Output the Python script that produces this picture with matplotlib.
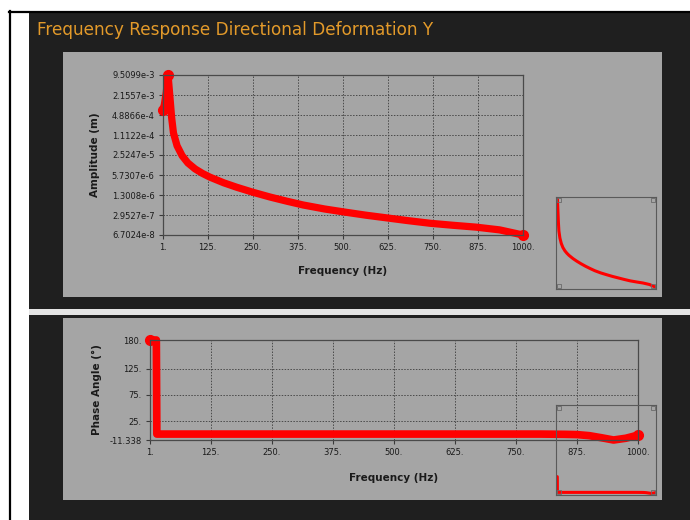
import matplotlib
matplotlib.use('Agg')
import matplotlib.pyplot as plt
from matplotlib.patches import Rectangle
from matplotlib.ticker import FixedLocator, FixedFormatter, NullLocator
import numpy as np

W, H = 690, 520

title = 'Frequency Response Directional Deformation Y'

# amplitude
freq_amp = [1, 5, 10, 15, 20, 25, 30, 40, 54, 70, 90, 110, 131, 170, 206, 250,
            298, 345, 390, 450, 510, 565, 620, 680, 742, 805, 870, 935, 1000]
amplitude = [7.0e-4, 1.1e-3, 2.6e-3, 9.5099e-3, 2.0e-3, 4.0e-4, 1.3e-4, 5.0e-5,
             2.4e-5, 1.4e-5, 9.0e-6, 6.5e-6, 4.9e-6, 3.2e-6, 2.3e-6, 1.6e-6,
             1.12e-6, 8.2e-7, 6.2e-7, 4.6e-7, 3.6e-7, 2.9e-7, 2.4e-7, 1.95e-7,
             1.6e-7, 1.38e-7, 1.2e-7, 9.8e-8, 6.7024e-8]

# phase
freq_phase = [1, 14, 15, 200, 400, 600, 800, 850, 875, 900, 925, 950, 975, 1000]
phase = [180, 180, 0, 0, 0, 0, 0, -0.5, -1, -3, -7, -11.338, -8, -2]

freq_ticks = [1, 125, 250, 375, 500, 625, 750, 875, 1000]
amp_tick_labels = ['9.5099e-3', '2.1557e-3', '4.8866e-4', '1.1122e-4', '2.5247e-5',
                   '5.7307e-6', '1.3008e-6', '2.9527e-7', '6.7024e-8']
phase_ticks = [180, 125, 75, 25, -11.338]
phase_tick_labels = ['180.', '125.', '75.', '25.', '-11.338']

GREY = '#a5a5a5'
DARK = '#1f1f1f'
RED = '#ff0000'
INK = '#1a1a1a'


def px_box(x0, y0, x1, y1):
    return [x0 / W, 1 - y1 / H, (x1 - x0) / W, (y1 - y0) / H]


fig = plt.figure(figsize=(W / 100, H / 100), dpi=100, facecolor='white')

# window background drawn in pixel coordinates
bg = fig.add_axes([0, 0, 1, 1])
bg.set_xlim(0, W)
bg.set_ylim(H, 0)
bg.axis('off')
bg.add_patch(Rectangle((29, 13), W - 29, H - 13, color=DARK, lw=0))
grad = np.linspace(0.27, 0.19, 32).reshape(-1, 1)
bg.imshow(grad, cmap='gray', vmin=0, vmax=1, extent=(29, W, 45, 13), aspect='auto')
bg.add_patch(Rectangle((63, 52), 599, 245, color=GREY, lw=0))
bg.add_patch(Rectangle((29, 309), W - 29, 6, color='#e4e4e4', lw=0))
bg.add_patch(Rectangle((63, 318), 599, 182, color=GREY, lw=0))
bg.plot([9.5, 9.5], [11, H], color='black', lw=1.6)
bg.plot([9, W], [11.5, 11.5], color='black', lw=1.6)
bg.set_xlim(0, W)
bg.set_ylim(H, 0)

bg.text(37, 30, title, color='#e39a2a', fontsize=12.2, va='center', ha='left')
bg.text(343, 271, 'Frequency (Hz)', fontsize=7.5, fontweight='bold', color=INK,
        ha='center', va='center')
bg.text(95, 155, 'Amplitude (m)', fontsize=7.5, fontweight='bold', color=INK,
        ha='center', va='center', rotation=90)
bg.text(394, 478, 'Frequency (Hz)', fontsize=7.5, fontweight='bold', color=INK,
        ha='center', va='center')
bg.text(97, 390, 'Phase Angle (°)', fontsize=7.5, fontweight='bold', color=INK,
        ha='center', va='center', rotation=90)


def style_axes(ax):
    ax.set_facecolor('none')
    for s in ax.spines.values():
        s.set_color('#4a4a4a')
        s.set_linewidth(0.9)
    ax.tick_params(axis='both', labelsize=6, colors='#3a3a3a', labelcolor=INK,
                   length=3, width=0.8, pad=3)
    ax.grid(True, color='#4a4a4a', linestyle=(0, (1.5, 1.5)), linewidth=0.7)
    ax.set_axisbelow(True)


# amplitude chart
ax1 = fig.add_axes(px_box(163, 75, 523, 235))
style_axes(ax1)
ax1.plot(freq_amp, amplitude, color=RED, lw=5.2, solid_capstyle='round',
         solid_joinstyle='round', marker='o', markersize=7,
         markevery=[0, 3, len(freq_amp) - 1], clip_on=False)
ax1.set_yscale('log')
amp_vals = [float(t) for t in amp_tick_labels]
ax1.set_ylim(min(amp_vals), max(amp_vals))
ax1.set_xlim(freq_ticks[0], freq_ticks[-1])
ax1.yaxis.set_major_locator(FixedLocator(amp_vals))
ax1.yaxis.set_major_formatter(FixedFormatter(amp_tick_labels))
ax1.yaxis.set_minor_locator(NullLocator())
ax1.set_xticks(freq_ticks)
ax1.set_xticklabels([f'{v}.' for v in freq_ticks])

# phase chart
ax2 = fig.add_axes(px_box(150, 340, 638, 440))
style_axes(ax2)
ax2.plot(freq_phase, phase, color=RED, lw=5.5, solid_capstyle='round',
         marker='o', markersize=7, markevery=[0, len(freq_phase) - 1], clip_on=False)
ax2.set_ylim(phase_ticks[-1], phase_ticks[0])
ax2.set_xlim(freq_ticks[0], freq_ticks[-1])
ax2.set_yticks(phase_ticks)
ax2.set_yticklabels(phase_tick_labels)
ax2.set_xticks(freq_ticks)
ax2.set_xticklabels([f'{v}.' for v in freq_ticks])


def thumbnail(box, x, y, logy=False):
    th = fig.add_axes(px_box(*box))
    th.set_facecolor('none')
    for s in th.spines.values():
        s.set_color('#5a5a5a')
        s.set_linewidth(0.8)
    th.plot(x, y, color=RED, lw=2.2)
    if logy:
        th.set_yscale('log')
    th.set_xlim(min(x), max(x))
    th.tick_params(which='both', left=False, bottom=False,
                   labelleft=False, labelbottom=False)
    pad = 0.03
    for cx, cy in [(pad, pad), (1 - pad, pad), (pad, 1 - pad), (1 - pad, 1 - pad)]:
        th.plot(cx, cy, marker='s', markersize=2.5, mfc='none', mec='#6a6a6a',
                mew=0.6, transform=th.transAxes)
    return th


t1 = thumbnail((556, 197, 656, 289), freq_amp, amplitude, logy=True)
t1.set_ylim(min(amplitude) * 0.8, max(amplitude) * 1.3)
t2 = thumbnail((556, 405, 656, 495), freq_phase, phase)
t2.set_ylim(-30, 1000)

fig.savefig('out.png', dpi=100, facecolor='white')
